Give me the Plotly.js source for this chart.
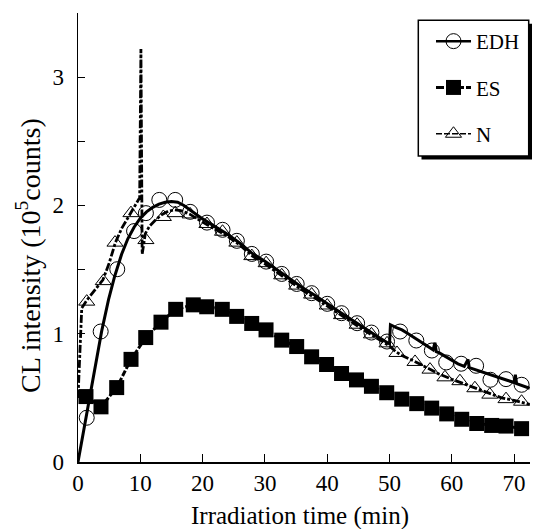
<!DOCTYPE html>
<html>
<head>
<meta charset="utf-8">
<script src="https://cdn.plot.ly/plotly-3.0.1.min.js"></script>
<style>html,body{margin:0;padding:0;background:#fff;}#chart{width:533px;height:529px;}</style>
</head>
<body>
<div id="chart"></div>
<script>
// ---- data ----
var edhMarkX = [1.4, 3.64, 6.3, 9.0, 10.9, 13.05, 15.6, 18.0, 20.7, 23.2, 25.5, 27.9, 30.2, 32.7, 35.1, 37.5, 40.0, 42.3, 44.8, 47.1, 49.6, 51.7, 54.3, 56.8, 59.1, 61.5, 63.9, 66.2, 68.7, 71.2];
var edhMarkY = [0.345, 1.017, 1.503, 1.80, 1.94, 2.043, 2.043, 1.95, 1.866, 1.81, 1.724, 1.622, 1.562, 1.466, 1.388, 1.316, 1.233, 1.16, 1.082, 1.009, 0.939, 1.017, 0.947, 0.869, 0.776, 0.766, 0.75, 0.641, 0.646, 0.602];
var edhLineX = [0, 1.4, 3.8, 4.9, 5.9, 7, 8, 9, 10, 11, 12, 13, 14, 15, 16, 17, 18, 20, 22, 24, 26, 28, 30, 32, 34, 36, 38, 40, 42, 44, 46, 48, 50.0, 50.15, 51, 52, 53, 54, 55, 56, 57, 57.3, 57.5, 58, 59, 60, 61, 62, 62.6, 62.8, 64, 65, 66, 67, 68, 69, 70, 70.2, 70.4, 71, 72, 72.5];
var edhLineY = [0, 0.37, 1.02, 1.265, 1.45, 1.62, 1.74, 1.83, 1.9, 1.95, 1.985, 2.01, 2.025, 2.03, 2.025, 2.0, 1.965, 1.895, 1.835, 1.775, 1.705, 1.625, 1.565, 1.495, 1.425, 1.36, 1.30, 1.233, 1.17, 1.107, 1.04, 0.98, 0.92, 1.07, 1.05, 1.03, 1.0, 0.97, 0.94, 0.905, 0.875, 0.93, 0.86, 0.85, 0.82, 0.79, 0.765, 0.745, 0.8, 0.735, 0.715, 0.70, 0.68, 0.665, 0.65, 0.635, 0.62, 0.68, 0.61, 0.60, 0.585, 0.575];

var esX = [1.28, 3.69, 6.21, 8.51, 10.87, 13.32, 15.68, 18.5, 20.66, 23.16, 25.47, 27.88, 30.18, 32.7, 35.1, 37.5, 39.9, 42.3, 44.7, 47.1, 49.55, 51.96, 54.37, 56.77, 59.18, 61.59, 64.0, 66.4, 68.7, 71.2];
var esY = [0.51, 0.43, 0.58, 0.80, 0.97, 1.09, 1.19, 1.225, 1.21, 1.19, 1.135, 1.08, 1.03, 0.95, 0.90, 0.82, 0.76, 0.69, 0.64, 0.59, 0.54, 0.49, 0.455, 0.42, 0.375, 0.333, 0.30, 0.285, 0.28, 0.26];

var nMarkX = [1.4, 4.06, 5.94, 8.5, 10.9, 13.7, 15.6, 18.0, 20.7, 23.2, 25.5, 27.9, 30.2, 32.7, 35.1, 37.5, 40.0, 42.3, 44.8, 47.1, 49.6, 51.2, 54.1, 56.5, 58.9, 61.3, 63.7, 66.1, 68.7, 71.2];
var nMarkY = [1.25, 1.41, 1.71, 1.94, 1.73, 1.91, 1.94, 1.93, 1.855, 1.795, 1.71, 1.605, 1.55, 1.455, 1.375, 1.305, 1.22, 1.145, 1.07, 0.995, 0.925, 0.85, 0.78, 0.72, 0.66, 0.63, 0.575, 0.525, 0.49, 0.47];
var nLineX = [0, 0.3, 0.6, 1.4, 2.5, 4, 5, 6, 7, 8, 9, 9.9, 10.1, 10.3, 10.8, 11.5, 12.5, 13.5, 14.5, 15.5, 16.5, 18, 20, 22, 24, 26, 28, 30, 32, 34, 36, 38, 40, 42, 44, 46, 48, 50, 51, 52, 54, 56, 58, 60, 62, 64, 66, 68, 70, 72.5];
var nLineY = [0.5, 0.9, 1.2, 1.26, 1.33, 1.42, 1.55, 1.71, 1.82, 1.9, 1.98, 2.06, 3.22, 1.62, 1.78, 1.84, 1.89, 1.93, 1.955, 1.965, 1.96, 1.93, 1.87, 1.815, 1.76, 1.69, 1.605, 1.545, 1.475, 1.405, 1.34, 1.28, 1.215, 1.15, 1.09, 1.025, 0.965, 0.905, 0.86, 0.83, 0.785, 0.735, 0.685, 0.645, 0.61, 0.575, 0.535, 0.5, 0.48, 0.45];

var seriesNames = ['EDH', 'ES', 'N'];
var xTicks = [0, 10, 20, 30, 40, 50, 60, 70];
var yTicks = [0, 1, 2, 3];

// ---- styles ----
var FONTFAM = 'Times New Roman, Liberation Serif, serif';
var edhLine = {color: '#000', width: 3, dash: 'solid'};
var esLine = {color: '#000', width: 3, dash: '6px,2px'};
var nLine = {color: '#000', width: 2.8, dash: '8px,2px,3px,2px'};
var edhMarker = {symbol: 'circle-open', size: 15, color: '#000', line: {width: 1, color: '#000'}};
var esMarker = {symbol: 'square', size: 15, color: '#000'};
var nMarker = {symbol: 'triangle-up-open', size: 14, color: '#000', line: {width: 1, color: '#000'}};

var traces = [
  {x: nLineX, y: nLineY, mode: 'lines', line: nLine, showlegend: false, hoverinfo: 'skip'},
  {x: nMarkX, y: nMarkY, mode: 'markers', marker: nMarker, showlegend: false},
  {x: esX, y: esY, mode: 'lines+markers', line: esLine, marker: esMarker, showlegend: false},
  {x: edhLineX, y: edhLineY, mode: 'lines', line: edhLine, showlegend: false, hoverinfo: 'skip'},
  {x: edhMarkX, y: edhMarkY, mode: 'markers', marker: edhMarker, showlegend: false},
  // legend entries
  {x: [null], y: [null], mode: 'lines+markers', name: seriesNames[0], line: {color: '#000', width: 2.5}, marker: edhMarker, legendgroup: 'a'},
  {x: [null], y: [null], mode: 'lines+markers', name: seriesNames[1], line: {color: '#000', width: 3, dash: '8px,2px'}, marker: esMarker, legendgroup: 'b'},
  {x: [null], y: [null], mode: 'lines+markers', name: seriesNames[2], line: {color: '#000', width: 1.5, dash: '6px,2px'}, marker: nMarker, legendgroup: 'c'}
];

// plot area: left 78, right 530, top 12.7, bottom 462.3
var L = 78, R = 530, T = 12.7, B = 462.3;
function px(xp) { return (xp - L) / (R - L); }
function py(yp) { return (B - yp) / (B - T); }

var layout = {
  width: 533, height: 529,
  margin: {l: L, r: 533 - R, t: T, b: 529 - B},
  paper_bgcolor: '#fff', plot_bgcolor: '#fff',
  font: {family: FONTFAM, size: 23, color: '#000'},
  showlegend: true,
  xaxis: {
    range: [0, 72.55], tickvals: xTicks, ticks: 'inside', ticklen: 8, tickwidth: 1, tickcolor: '#000',
    showline: true, linecolor: '#000', linewidth: 1.5, showgrid: false, zeroline: false,
    tickfont: {family: FONTFAM, size: 23, color: '#000'}
  },
  yaxis: {
    range: [0, 3.5], tickvals: yTicks, ticks: 'inside', ticklen: 7, tickwidth: 1, tickcolor: '#000',
    minor: {dtick: 0.5, tick0: 0, ticks: 'inside', ticklen: 7, tickwidth: 1, tickcolor: '#000', showgrid: false},
    showline: true, linecolor: '#000', linewidth: 1.5, showgrid: false, zeroline: false,
    tickfont: {family: FONTFAM, size: 23, color: '#000'}, ticklabelstandoff: 8
  },
  legend: {
    x: px(431), y: py(20.7), xanchor: 'left', yanchor: 'top',
    bgcolor: 'rgba(0,0,0,0)', borderwidth: 0, itemwidth: 35,
    font: {family: FONTFAM, size: 21, color: '#000'},
    traceorder: 'grouped', tracegroupgap: 16
  },
  shapes: [
    {type: 'rect', xref: 'paper', yref: 'paper', x0: px(421.5), x1: px(532), y0: py(159.5), y1: py(23.5), fillcolor: '#000', line: {width: 0}, layer: 'above'},
    {type: 'rect', xref: 'paper', yref: 'paper', x0: px(418.3), x1: px(528.7), y0: py(156), y1: py(20), fillcolor: '#fff', line: {width: 1.5, color: '#000'}, layer: 'above'}
  ],
  annotations: [
    {text: 'CL intensity (10<sup>5</sup>counts)', xref: 'paper', yref: 'paper', x: px(29), y: py(256), xanchor: 'center', yanchor: 'middle', textangle: -90, showarrow: false, font: {family: FONTFAM, size: 28, color: '#000'}},
    {text: 'Irradiation time (min)', xref: 'paper', yref: 'paper', x: px(300), y: py(516), xanchor: 'center', yanchor: 'middle', showarrow: false, font: {family: FONTFAM, size: 25, color: '#000'}}
  ]
};

Plotly.newPlot('chart', traces, layout, {displayModeBar: false, staticPlot: true}).then(function (gd) {
  var texts = gd.querySelectorAll('text');
  for (var i = 0; i < texts.length; i++) {
    texts[i].style.setProperty('font-family', "'Liberation Serif', 'Times New Roman', serif", 'important');
  }
});
</script>
</body>
</html>
